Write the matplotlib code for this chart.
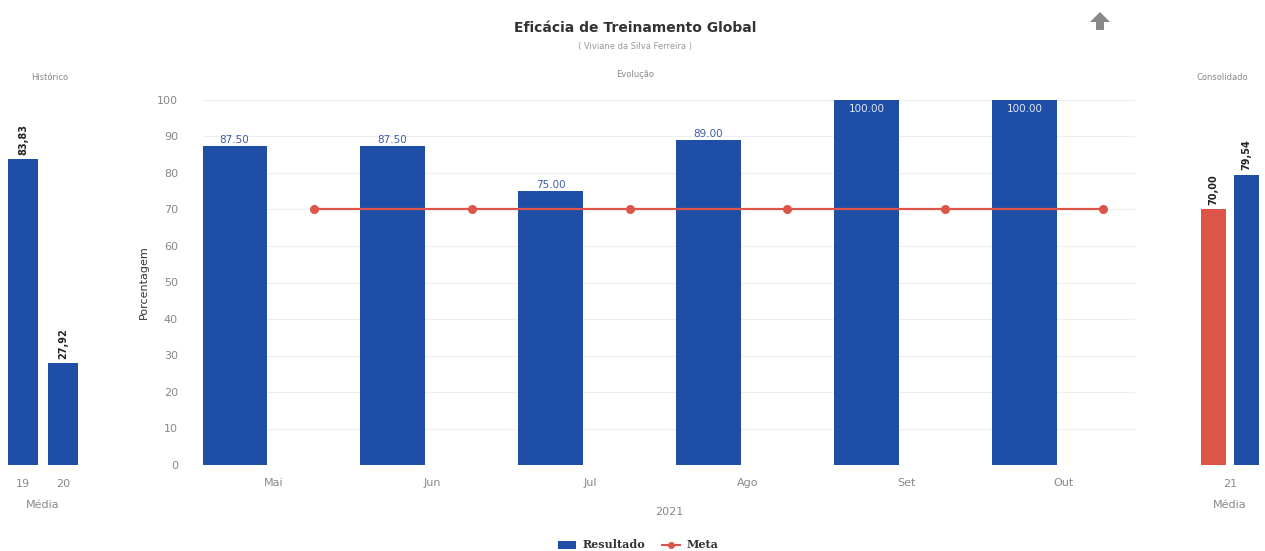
import matplotlib
matplotlib.use("Agg")
import matplotlib.pyplot as plt
import numpy as np
from matplotlib.lines import Line2D
from matplotlib.patches import Patch, Polygon

months = ["Mai", "Jun", "Jul", "Ago", "Set", "Out"]
resultado = [87.50, 87.50, 75.00, 89.00, 100.00, 100.00]
meta = [70, 70, 70, 70, 70, 70]

hist_labels = ["19", "20"]
hist_values = [83.83, 27.92]

cons_label = "21"
cons_meta = 70.00
cons_result = 79.54

BLUE = "#1f4ea6"
RED = "#dc5548"
GRAY = "#888888"

W, H = 1265, 551
fig = plt.figure(figsize=(W / 100, H / 100), dpi=100)
fig.patch.set_facecolor("white")

def ax_at(x0, x1, ytop, ybot):
    return fig.add_axes([x0 / W, 1 - ybot / H, (x1 - x0) / W, (ybot - ytop) / H])

def style(ax):
    for s in ax.spines.values():
        s.set_visible(False)
    ax.tick_params(length=0, colors=GRAY, labelsize=8)

# Main chart
ax = ax_at(203, 1135, 100, 465)
x = np.arange(len(months))
ax.bar(x - 0.25, resultado, width=0.41, color=BLUE, zorder=2)
ax.plot(x + 0.25, meta, color=RED, marker="o", markersize=5.5, linewidth=1.6, zorder=3)
ax.set_xlim(-0.45, 5.45)
ax.set_ylim(0, 100)
ax.set_yticks(np.arange(0, 101, 10))
ax.set_xticks(x)
ax.set_xticklabels(months)
ax.grid(axis="y", color="#eeeeee", linewidth=0.8, zorder=0)
style(ax)
ax.tick_params(axis="x", pad=9)
ax.tick_params(axis="y", pad=18)
ax.set_ylabel("Porcentagem", fontsize=8, color="#333333", labelpad=6)
ax.set_xlabel("2021", fontsize=8, color=GRAY, labelpad=14)
for xi, v in zip(x, resultado):
    if v >= 98:
        ax.text(xi - 0.25, v - 1, f"{v:.2f}", ha="center", va="top", fontsize=7.5,
                color="#dfe6f5", zorder=4)
    else:
        ax.text(xi - 0.25, v + 0.3, f"{v:.2f}", ha="center", va="bottom", fontsize=7.5,
                color="#3a5da8", zorder=4)

# Historico panel
axh = ax_at(3, 83, 100, 465)
xh = np.arange(len(hist_labels))
axh.bar(xh, hist_values, width=0.75, color=BLUE, zorder=2)
axh.set_xlim(-0.5, 1.5)
axh.set_ylim(0, 100)
axh.set_yticks([])
axh.set_xticks(xh)
axh.set_xticklabels(hist_labels)
style(axh)
axh.tick_params(axis="x", pad=10)
axh.set_xlabel("Média", fontsize=8, color=GRAY, labelpad=8)
for xi, v in zip(xh, hist_values):
    axh.text(xi, v + 1.2, f"{v:.2f}".replace(".", ","), rotation=90, ha="center", va="bottom",
             fontsize=7, fontweight="bold", color="#222222")

# Consolidado panel
axc = ax_at(1195, 1265, 100, 465)
axc.bar([-0.24], [cons_meta], width=0.36, color=RED, zorder=2)
axc.bar([0.23], [cons_result], width=0.36, color=BLUE, zorder=2)
axc.set_xlim(-0.5, 0.5)
axc.set_ylim(0, 100)
axc.set_yticks([])
axc.set_xticks([0])
axc.set_xticklabels([cons_label])
style(axc)
axc.tick_params(axis="x", pad=10)
axc.set_xlabel("Média", fontsize=8, color=GRAY, labelpad=8)
for xi, v in [(-0.24, cons_meta), (0.23, cons_result)]:
    axc.text(xi, v + 1.2, f"{v:.2f}".replace(".", ","), rotation=90, ha="center", va="bottom",
             fontsize=7, fontweight="bold", color="#222222")

# Titles
fig.text(635 / W, 1 - 28 / H, "Eficácia de Treinamento Global", ha="center", va="center",
         fontsize=10, fontweight="bold", color="#333333")
fig.text(635 / W, 1 - 47 / H, "( Viviane da Silva Ferreira )", ha="center", va="center",
         fontsize=6, color="#999999")
fig.text(635 / W, 1 - 75 / H, "Evolução", ha="center", va="center", fontsize=6, color="#888888")
fig.text(50 / W, 1 - 77 / H, "Histórico", ha="center", va="center", fontsize=6, color="#888888")
fig.text(1222 / W, 1 - 77 / H, "Consolidado", ha="center", va="center", fontsize=6, color="#888888")

# Up arrow icon
arrow = Polygon([[1100 / W, 1 - 12 / H], [1110 / W, 1 - 22 / H], [1104 / W, 1 - 22 / H],
                 [1104 / W, 1 - 30 / H], [1096 / W, 1 - 30 / H], [1096 / W, 1 - 22 / H],
                 [1090 / W, 1 - 22 / H]], closed=True, transform=fig.transFigure,
                facecolor="#888888", edgecolor="none")
fig.patches.append(arrow)

# Legend
handles = [Patch(facecolor=BLUE, label="Resultado"),
           Line2D([0], [0], color=RED, marker="o", markersize=4, linewidth=1.5, label="Meta")]
fig.legend(handles=handles, loc="center", bbox_to_anchor=(638 / W, 1 - 545 / H), ncol=2,
           frameon=False, prop={"family": "DejaVu Serif", "weight": "bold", "size": 8},
           handlelength=1.6, columnspacing=1.5, handletextpad=0.6, labelcolor="#333333")

fig.savefig("out.png", dpi=100, facecolor="white")
